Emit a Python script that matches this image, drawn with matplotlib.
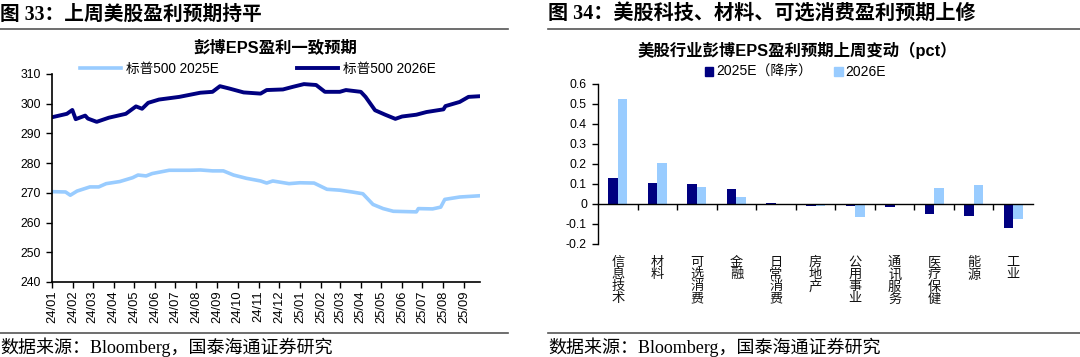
#!/usr/bin/env python3
"""
Two-panel chart: S&P 500 consensus EPS (Bloomberg) and weekly sector EPS revisions.
"""

import numpy as np
import pandas as pd
import matplotlib
matplotlib.use('Agg')
import matplotlib.pyplot as plt
import matplotlib.dates as mdates
from matplotlib.patches import Patch

plt.rcParams['font.family'] = ['Liberation Sans', 'Noto Sans CJK SC']

# ---- Left panel data: S&P 500 consensus EPS ----
dates_2026 = ['2024-01-02', '2024-01-23', '2024-01-31', '2024-02-05', '2024-02-19',
              '2024-02-23', '2024-03-07', '2024-03-25', '2024-04-19', '2024-05-04',
              '2024-05-13', '2024-05-22', '2024-06-07', '2024-07-07', '2024-08-07',
              '2024-08-25', '2024-09-05', '2024-09-19', '2024-10-10', '2024-11-04',
              '2024-11-13', '2024-12-07', '2024-12-22', '2025-01-07', '2025-01-25',
              '2025-02-07', '2025-03-01', '2025-03-10', '2025-04-01', '2025-04-08',
              '2025-04-22', '2025-05-07', '2025-05-22', '2025-06-01', '2025-06-22',
              '2025-07-07', '2025-08-01', '2025-08-04', '2025-08-25', '2025-09-07',
              '2025-09-22']
eps_2026 = [295.5, 296.6, 297.9, 294.8, 296.0,
            295.0, 293.9, 295.3, 296.6, 299.1,
            298.3, 300.3, 301.4, 302.3, 303.7,
            304.0, 305.9, 305.1, 303.8, 303.4,
            304.6, 304.8, 305.7, 306.6, 306.3,
            304.0, 304.0, 304.6, 304.0, 302.3,
            297.8, 296.3, 294.9, 295.7, 296.3,
            297.2, 298.1, 299.2, 300.6, 302.3,
            302.5]

dates_2025 = ['2024-01-02', '2024-01-21', '2024-01-28', '2024-02-07', '2024-02-26',
              '2024-03-10', '2024-03-21', '2024-04-10', '2024-04-29', '2024-05-07',
              '2024-05-19', '2024-05-28', '2024-06-22', '2024-07-22', '2024-08-07',
              '2024-08-25', '2024-09-10', '2024-09-25', '2024-10-14', '2024-11-04',
              '2024-11-13', '2024-11-22', '2024-12-16', '2025-01-01', '2025-01-22',
              '2025-02-10', '2025-03-01', '2025-03-19', '2025-04-04', '2025-04-19',
              '2025-05-04', '2025-05-19', '2025-06-22', '2025-06-25', '2025-07-16',
              '2025-07-28', '2025-08-03', '2025-08-25', '2025-09-22']
eps_2025 = [270.4, 270.3, 269.2, 270.6, 272.0,
            272.0, 273.1, 273.8, 275.1, 276.0,
            275.7, 276.5, 277.6, 277.6, 277.7,
            277.4, 277.4, 276.0, 274.9, 274.0,
            273.3, 274.0, 273.1, 273.4, 273.3,
            271.2, 270.9, 270.3, 269.7, 266.1,
            264.7, 263.8, 263.6, 264.7, 264.6,
            265.2, 267.8, 268.6, 269.0]

# ---- Right panel data: weekly change of sector EPS forecasts (pct) ----
sectors = ['信息技术', '材料', '可选消费', '金融', '日常消费', '房地产',
           '公用事业', '通讯服务', '医疗保健', '能源', '工业']
chg_2025 = [0.132, 0.103, 0.098, 0.074, 0.004, -0.009, -0.009, -0.013, -0.048, -0.058, -0.120]
chg_2026 = [0.527, 0.206, 0.087, 0.036, 0.001, -0.009, -0.065, -0.002, 0.082, 0.093, -0.077]

DARK = '#000080'
LIGHT = '#99CCFF'
W, H = 1080, 357


def px_rect(x0, y0, x1, y1):
    # pixel box (top-left origin) -> figure fraction rect
    return [x0 / W, 1 - y1 / H, (x1 - x0) / W, (y1 - y0) / H]


fig = plt.figure(figsize=(W / 100, H / 100), dpi=100)

serif = ['Liberation Serif', 'Noto Sans CJK SC']

# headers, rules and source notes
fig.text(0 / W, 1 - 15 / H, '图 33：上周美股盈利预期持平', family=serif,
         fontsize=14.2, fontweight='bold', va='center', ha='left')
fig.text(548 / W, 1 - 15 / H, '图 34：美股科技、材料、可选消费盈利预期上修', family=serif,
         fontsize=14.5, fontweight='bold', va='center', ha='left')
for x0, x1 in [(0, 508), (548, 1080)]:
    fig.add_artist(plt.Line2D([x0 / W, x1 / W], [1 - 29 / H] * 2, color='#555555', lw=1.2))
    fig.add_artist(plt.Line2D([x0 / W, x1 / W], [1 - 333 / H] * 2, color='#555555', lw=1.2))
fig.text(0 / W, 1 - 347 / H, '数据来源：Bloomberg，国泰海通证券研究', family=serif,
         fontsize=13, va='center', ha='left')
fig.text(548 / W, 1 - 347 / H, '数据来源：Bloomberg，国泰海通证券研究', family=serif,
         fontsize=13, va='center', ha='left')

# ---------------- Left panel ----------------
ax1 = fig.add_axes(px_rect(52, 74, 480, 282))
d25 = pd.to_datetime(dates_2025)
d26 = pd.to_datetime(dates_2026)
l1, = ax1.plot(d25, eps_2025, color=LIGHT, lw=2.6, label='标普500 2025E')
l2, = ax1.plot(d26, eps_2026, color=DARK, lw=2.8, label='标普500 2026E')
ax1.set_ylim(240, 310)
ax1.set_yticks(np.arange(240, 311, 10))
ax1.set_xlim(pd.Timestamp('2024-01-01'), pd.Timestamp('2025-09-24'))
ax1.set_xticks(pd.date_range('2024-01-01', '2025-09-01', freq='MS'))
ax1.xaxis.set_major_formatter(mdates.DateFormatter('%y/%m'))
ax1.tick_params(axis='x', rotation=90, labelsize=9.3, length=4, width=1, pad=2)
ax1.tick_params(axis='y', labelsize=8.8, length=4, width=1, pad=4)
for s in ['top', 'right']:
    ax1.spines[s].set_visible(False)
for s in ['left', 'bottom']:
    ax1.spines[s].set_linewidth(1.2)
fig.text(275 / W, 1 - 47 / H, '彭博EPS盈利一致预期', fontsize=11.8, fontweight='bold',
         ha='center', va='center')
fig.legend(handles=[l1, l2], loc='center left', bbox_to_anchor=(80 / W, 1 - 69 / H),
           ncol=2, frameon=False, fontsize=9.8, handlelength=3.0, handletextpad=0.35,
           columnspacing=5.8, borderaxespad=0, borderpad=0)

# ---------------- Right panel ----------------
ax2 = fig.add_axes(px_rect(598, 84, 1033, 244))
x = np.arange(len(sectors))
bw = 0.24
ax2.bar(x - bw / 2, chg_2025, width=bw, color=DARK, label='2025E（降序）')
ax2.bar(x + bw / 2, chg_2026, width=bw, color=LIGHT, label='2026E')
ax2.set_xlim(-0.5, len(sectors) - 0.5)
ax2.set_ylim(-0.2, 0.6)
ax2.set_yticks(np.round(np.arange(-0.2, 0.61, 0.1), 1))
ax2.set_yticklabels(['-0.2', '-0.1', '0', '0.1', '0.2', '0.3', '0.4', '0.5', '0.6'])
ax2.tick_params(axis='y', labelsize=8.8, length=4, width=1, pad=4)
ax2.spines['bottom'].set_position(('data', 0))
for s in ['top', 'right']:
    ax2.spines[s].set_visible(False)
ax2.spines['left'].set_linewidth(1.0)
ax2.spines['bottom'].set_linewidth(1.0)
ax2.set_xticks(np.arange(0.5, len(sectors) - 0.5, 1.0))
ax2.set_xticklabels([])
ax2.tick_params(axis='x', length=4, width=1, direction='out')
for i, name in enumerate(sectors):
    ax2.text(i, -0.2 - 13 / 200, '\n'.join(name), ha='center', va='top',
             fontsize=9.5, linespacing=1.0, color='#111111')
fig.text(797 / W, 1 - 50 / H, '美股行业彭博EPS盈利预期上周变动（pct）', fontsize=11.8,
         fontweight='bold', ha='center', va='center')
handles = [Patch(color=DARK, label='2025E（降序）'), Patch(color=LIGHT, label='2026E')]
fig.legend(handles=handles, loc='center left', bbox_to_anchor=(705 / W, 1 - 72 / H),
           ncol=2, frameon=False, fontsize=10, handlelength=0.6, handleheight=0.6,
           handletextpad=0.2, columnspacing=1.6, borderaxespad=0, borderpad=0)

fig.savefig('out.png', dpi=100)
